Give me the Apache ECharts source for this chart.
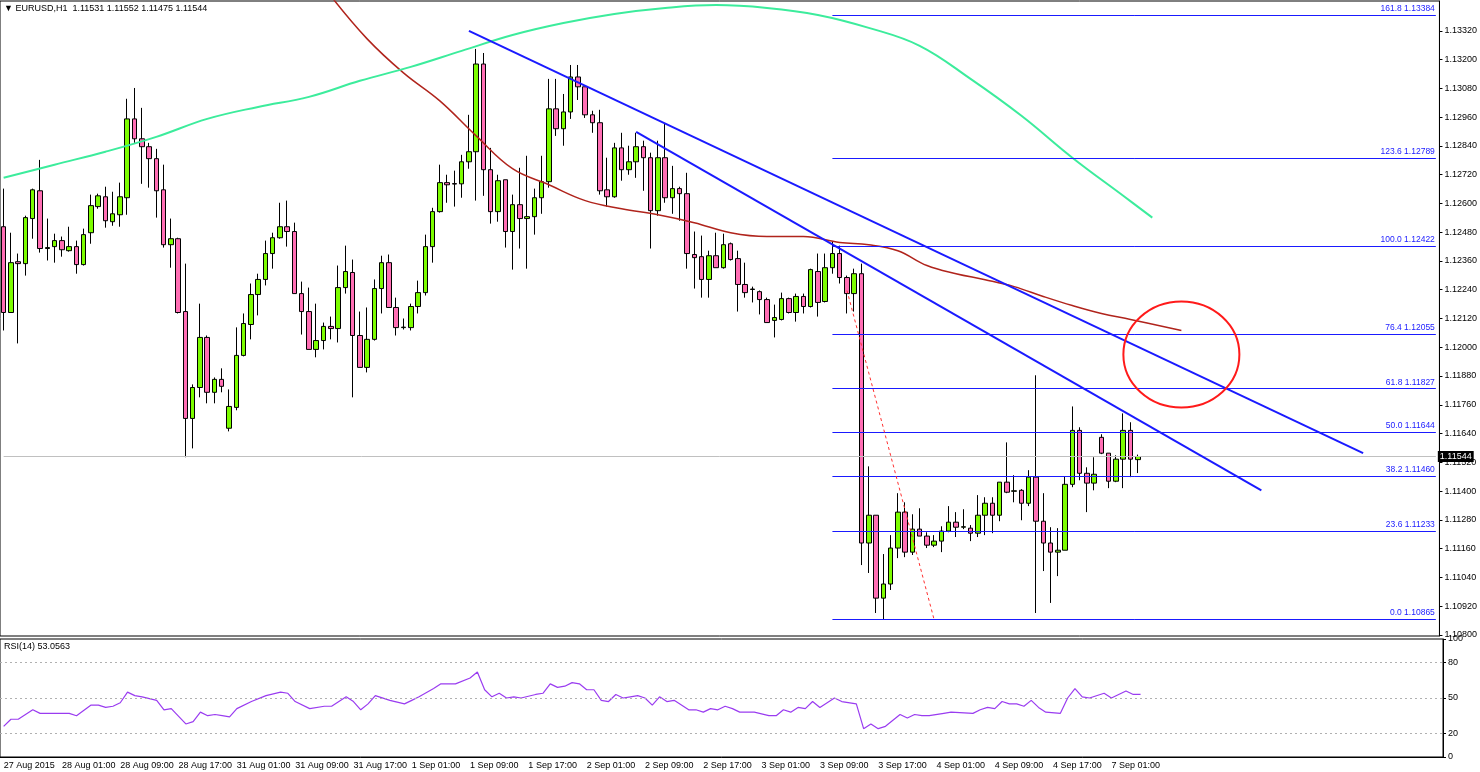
<!DOCTYPE html>
<html>
<head>
<meta charset="utf-8">
<script src="https://cdn.jsdelivr.net/npm/echarts@6/dist/echarts.min.js"></script>
<style>
  html, body { margin: 0; padding: 0; background: #fff; }
  #chart { width: 1480px; height: 772px; }
</style>
</head>
<body>
<div id="chart"></div>
<script>
// hourly bars, EURUSD H1, [open, close, low, high]
var ohlc = [
  [1.12503,1.12145,1.12070,1.12662],[1.12145,1.12353,1.12145,1.12478],[1.12357,1.12349,1.12016,1.12391],
  [1.12349,1.12541,1.12299,1.12549],[1.12537,1.12657,1.12453,1.12662],[1.12653,1.12412,1.12395,1.12782],
  [1.12412,1.12416,1.12362,1.12537],[1.12420,1.12445,1.12353,1.12474],[1.12445,1.12407,1.12378,1.12462],
  [1.12403,1.12420,1.12399,1.12503],[1.12420,1.12345,1.12307,1.12445],[1.12345,1.12470,1.12341,1.12495],
  [1.12478,1.12591,1.12432,1.12637],[1.12587,1.12632,1.12578,1.12641],[1.12628,1.12528,1.12499,1.12670],
  [1.12524,1.12557,1.12507,1.12649],[1.12553,1.12628,1.12503,1.12687],[1.12624,1.12953,1.12553,1.13037],
  [1.12953,1.12870,1.12853,1.13082],[1.12870,1.12837,1.12682,1.12999],[1.12837,1.12787,1.12666,1.12853],
  [1.12787,1.12653,1.12541,1.12828],[1.12657,1.12428,1.12416,1.12762],[1.12428,1.12453,1.12332,1.12537],
  [1.12453,1.12145,1.12141,1.12457],[1.12149,1.11703,1.11541,1.12349],[1.11703,1.11832,1.11578,1.11845],
  [1.11832,1.12041,1.11791,1.12182],[1.12041,1.11812,1.11766,1.12049],[1.11812,1.11866,1.11766,1.11874],
  [1.11866,1.11837,1.11812,1.11912],[1.11662,1.11753,1.11649,1.11824],[1.11749,1.11966,1.11737,1.12083],
  [1.11966,1.12099,1.11962,1.12141],[1.12095,1.12220,1.12033,1.12266],[1.12220,1.12283,1.12133,1.12307],
  [1.12283,1.12391,1.12258,1.12445],[1.12391,1.12457,1.12328,1.12478],[1.12457,1.12503,1.12453,1.12603],
  [1.12503,1.12483,1.12420,1.12612],[1.12483,1.12224,1.12224,1.12520],[1.12224,1.12149,1.12053,1.12274],
  [1.12149,1.11991,1.11991,1.12249],[1.11991,1.12028,1.11958,1.12182],[1.12028,1.12087,1.11991,1.12103],
  [1.12087,1.12078,1.12033,1.12128],[1.12078,1.12249,1.12020,1.12341],[1.12249,1.12316,1.12224,1.12424],
  [1.12312,1.12049,1.11791,1.12366],[1.12049,1.11916,1.11916,1.12149],[1.11916,1.12033,1.11895,1.12166],
  [1.12033,1.12245,1.12028,1.12283],[1.12245,1.12353,1.12141,1.12382],[1.12353,1.12166,1.12166,1.12387],
  [1.12166,1.12082,1.12049,1.12207],[1.12082,1.12084,1.12074,1.12120],[1.12082,1.12170,1.12070,1.12182],
  [1.12170,1.12228,1.12141,1.12278],[1.12228,1.12420,1.12216,1.12470],[1.12420,1.12566,1.12353,1.12582],
  [1.12566,1.12687,1.12562,1.12762],[1.12687,1.12678,1.12603,1.12720],[1.12683,1.12681,1.12587,1.12737],
  [1.12682,1.12774,1.12624,1.12803],[1.12774,1.12816,1.12745,1.12970],[1.12816,1.13182,1.12612,1.13245],
  [1.13182,1.12741,1.12632,1.13228],[1.12741,1.12566,1.12516,1.12832],[1.12566,1.12695,1.12524,1.12720],
  [1.12699,1.12483,1.12416,1.12699],[1.12483,1.12595,1.12324,1.12637],[1.12595,1.12537,1.12412,1.12749],
  [1.12537,1.12545,1.12328,1.12799],[1.12545,1.12624,1.12470,1.12662],[1.12624,1.12691,1.12557,1.12799],
  [1.12691,1.12995,1.12666,1.13120],[1.12995,1.12912,1.12882,1.13120],[1.12912,1.12982,1.12841,1.13057],
  [1.12982,1.13128,1.12953,1.13178],[1.13128,1.13087,1.13032,1.13178],[1.13087,1.12970,1.12957,1.13087],
  [1.12970,1.12937,1.12895,1.12987],[1.12937,1.12653,1.12637,1.12991],[1.12657,1.12628,1.12587,1.12791],
  [1.12628,1.12832,1.12624,1.12853],[1.12832,1.12741,1.12695,1.12895],[1.12741,1.12774,1.12720,1.12841],
  [1.12774,1.12837,1.12707,1.12895],[1.12837,1.12791,1.12653,1.12862],[1.12791,1.12570,1.12412,1.12812],
  [1.12570,1.12791,1.12549,1.12862],[1.12791,1.12624,1.12603,1.12932],[1.12624,1.12662,1.12557,1.12757],
  [1.12662,1.12641,1.12528,1.12670],[1.12641,1.12391,1.12328,1.12728],[1.12387,1.12374,1.12245,1.12483],
  [1.12378,1.12283,1.12207,1.12466],[1.12283,1.12382,1.12207,1.12403],[1.12382,1.12332,1.12332,1.12478],
  [1.12332,1.12428,1.12328,1.12474],[1.12432,1.12366,1.12362,1.12437],[1.12370,1.12262,1.12149,1.12403],
  [1.12262,1.12228,1.12207,1.12353],[1.12241,1.12243,1.12187,1.12253],[1.12232,1.12199,1.12137,1.12237],
  [1.12199,1.12103,1.12103,1.12207],[1.12112,1.12124,1.12041,1.12178],[1.12116,1.12203,1.12112,1.12228],
  [1.12203,1.12145,1.12141,1.12207],[1.12145,1.12212,1.12107,1.12224],[1.12212,1.12170,1.12141,1.12224],
  [1.12170,1.12324,1.12166,1.12328],[1.12316,1.12187,1.12128,1.12391],[1.12191,1.12332,1.12187,1.12391],
  [1.12332,1.12391,1.12307,1.12441],[1.12391,1.12291,1.12266,1.12424],[1.12291,1.12224,1.12141,1.12299],
  [1.12224,1.12307,1.12149,1.12328],[1.12307,1.11183,1.11091,1.12349],[1.11183,1.11299,1.11058,1.11503],
  [1.11299,1.10953,1.10891,1.11299],[1.10953,1.11012,1.10865,1.11137],[1.11012,1.11162,1.10987,1.11216],
  [1.11162,1.11312,1.11120,1.11391],[1.11312,1.11145,1.11124,1.11353],[1.11145,1.11241,1.11133,1.11303],
  [1.11241,1.11212,1.11212,1.11328],[1.11212,1.11174,1.11162,1.11228],[1.11174,1.11191,1.11166,1.11216],
  [1.11191,1.11233,1.11145,1.11253],[1.11233,1.11270,1.11228,1.11337],[1.11270,1.11249,1.11208,1.11312],
  [1.11249,1.11251,1.11241,1.11324],[1.11245,1.11224,1.11191,1.11258],[1.11224,1.11299,1.11208,1.11383],
  [1.11299,1.11349,1.11216,1.11374],[1.11349,1.11299,1.11224,1.11374],[1.11299,1.11437,1.11274,1.11437],
  [1.11437,1.11395,1.11391,1.11603],[1.11399,1.11401,1.11353,1.11466],[1.11403,1.11349,1.11278,1.11408],
  [1.11349,1.11458,1.11337,1.11487],[1.11458,1.11274,1.10891,1.11883],[1.11274,1.11183,1.11066,1.11391],
  [1.11183,1.11145,1.10933,1.11249],[1.11145,1.11153,1.11045,1.11245],[1.11153,1.11428,1.11153,1.11462],
  [1.11428,1.11653,1.11416,1.11753],[1.11653,1.11474,1.11445,1.11666],[1.11474,1.11433,1.11312,1.11499],
  [1.11433,1.11470,1.11403,1.11541],[1.11624,1.11558,1.11554,1.11637],[1.11558,1.11441,1.11412,1.11558],
  [1.11441,1.11533,1.11437,1.11549],[1.11533,1.11653,1.11412,1.11724],[1.11653,1.11533,1.11458,1.11687],
  [1.11531,1.11544,1.11475,1.11552]
];

// moving averages, [bar index, price]
var maRed = [
  [45,1.13466],[50,1.13287],[55,1.13145],[60,1.13028],[65,1.12882],[70,1.12745],[75,1.12678],
  [80,1.12612],[85,1.12578],[90,1.12553],[95,1.12520],[100,1.12478],[105,1.12462],[110,1.12462],
  [115,1.12437],[119,1.12428],[123,1.12403],[127,1.12341],[131,1.12307],[135,1.12282],[139,1.12253],
  [143,1.12212],[147,1.12174],[151,1.12141],[155,1.12116],[162,1.12070]
];
var maGreen = [
  [0,1.12707],[7,1.12762],[14,1.12816],[21,1.12878],[28,1.12953],[35,1.13003],[42,1.13045],
  [49,1.13112],[56,1.13170],[63,1.13237],[70,1.13303],[77,1.13353],[84,1.13391],[91,1.13416],
  [98,1.13428],[105,1.13416],[112,1.13387],[119,1.13333],[126,1.13258],[133,1.13120],[140,1.12966],
  [147,1.12791],[154,1.12632],[158,1.12541]
];

// RSI(14), [bar index, value]
var rsi = [
  [0,26],[1,32],[2,32],[4,40],[5,37],[7,37],[9,37],[10,35],[12,44],[13,44],[14,42],[15,43],[16,46],
  [17,55],[18,52],[19,51],[21,48],[22,40],[23,41],[25,28],[26,30],[27,38],[28,35],[29,36],[30,35],
  [31,34],[32,41],[34,47],[36,52],[38,55],[39,54],[40,47],[42,41],[44,43],[45,43],[47,51],[48,47],
  [49,40],[50,45],[51,52],[53,48],[55,45],[56,48],[57,51],[59,58],[60,62],[62,62],[64,67],[65,72],
  [66,57],[67,51],[68,54],[69,50],[70,51],[71,50],[73,53],[74,54],[75,62],[76,59],[77,60],[78,63],
  [79,62],[80,57],[81,57],[82,48],[83,47],[84,53],[85,50],[86,51],[87,52],[88,50],[89,44],[90,51],
  [91,47],[92,48],[94,40],[95,40],[96,38],[97,41],[98,40],[99,43],[100,41],[101,38],[103,38],[105,35],
  [106,35],[107,40],[108,38],[109,42],[110,41],[111,47],[112,42],[114,50],[115,47],[117,45],[118,24],
  [119,28],[120,24],[121,26],[123,36],[124,33],[125,36],[126,35],[127,35],[129,37],[130,38],[133,37],
  [134,40],[135,42],[136,41],[137,47],[138,45],[139,45],[140,43],[141,48],[142,42],[143,38],[145,37],
  [146,50],[147,58],[148,51],[149,50],[151,54],[152,50],[154,56],[155,53],[156,53]
];

// fibonacci retracement levels
var fibLevels = ['0.0','23.6','38.2','50.0','61.8','76.4','100.0','123.6','161.8'];
var fibPrices = [1.10865,1.11233,1.11460,1.11644,1.11827,1.12055,1.12422,1.12789,1.13384];

// trend lines, [[bar, price], [bar, price]]
var trend1 = [[64,1.13320],[187,1.11558]];
var trend2 = [[87,1.12899],[173,1.11403]];
var dotted = [[116,1.12237],[128,1.10862]];
var circleAt = [162,1.11970];

var lastPrice = 1.11544;

var priceTicks = [1.10800,1.10920,1.11040,1.11160,1.11280,1.11400,1.11520,1.11640,1.11760,1.11880,
  1.12000,1.12120,1.12240,1.12360,1.12480,1.12600,1.12720,1.12840,1.12960,1.13080,1.13200,1.13320];
var rsiTicks = [0,20,50,80,100];
var timeLabels = ['27 Aug 2015','28 Aug 01:00','28 Aug 09:00','28 Aug 17:00','31 Aug 01:00','31 Aug 09:00',
  '31 Aug 17:00','1 Sep 01:00','1 Sep 09:00','1 Sep 17:00','2 Sep 01:00','2 Sep 09:00','2 Sep 17:00',
  '3 Sep 01:00','3 Sep 09:00','3 Sep 17:00','4 Sep 01:00','4 Sep 09:00','4 Sep 17:00','7 Sep 01:00'];

var slots = 198;
var cats = [];
for (var i = 0; i < slots; i++) cats.push(String(i));

var font = 'Liberation Sans';
var BLUE = '#1a1aff';

function pt(p) { return { coord: [String(p[0]), p[1]] }; }
function showTime(i) { return i % 8 === 0 && i / 8 < timeLabels.length; }

var fibLines = fibPrices.map(function (v, k) {
    return [
        { coord: ['114', v],
          lineStyle: { color: BLUE, width: 1, type: 'solid' },
          label: { show: true, position: 'insideEndTop', formatter: fibLevels[k] + ' ' + v.toFixed(5),
                   color: BLUE, fontFamily: font, fontSize: 8.5, distance: [1, 2] } },
        { coord: [String(slots - 1), v] }
    ];
});

var chart = echarts.init(document.getElementById('chart'));
chart.setOption({
    animation: false,
    backgroundColor: '#fff',
    grid: [
        { left: 0, right: 37, top: 1, height: 635, show: true, borderColor: '#000', borderWidth: 1 },
        { left: 0, right: 37, top: 639, height: 118, show: true, borderColor: '#000', borderWidth: 1 }
    ],
    xAxis: [{
        type: 'category', gridIndex: 0, data: cats,
        axisLine: { show: false }, axisTick: { show: false }, axisLabel: { show: false }, splitLine: { show: false }
    }, {
        type: 'category', gridIndex: 1, data: cats,
        axisLine: { lineStyle: { color: '#000' } },
        axisTick: { interval: showTime, length: 3, lineStyle: { color: '#000' } },
        axisLabel: {
            interval: showTime,
            formatter: function (v, i) { return timeLabels[i / 8] || ''; },
            align: 'left', margin: 4, fontFamily: font, fontSize: 9, color: '#000'
        },
        splitLine: { show: false }
    }],
    yAxis: [{
        type: 'value', gridIndex: 0, position: 'right', min: 1.10795, max: 1.13445, scale: true,
        axisLine: { show: true, lineStyle: { color: '#000' } },
        axisTick: { show: true, length: 3, customValues: priceTicks, lineStyle: { color: '#000' } },
        axisLabel: { customValues: priceTicks, formatter: function (v) { return v.toFixed(5); },
            fontFamily: font, fontSize: 9, color: '#000', margin: 5 },
        splitLine: { show: false }
    }, {
        type: 'value', gridIndex: 1, position: 'right', min: 0, max: 100,
        axisLine: { show: true, lineStyle: { color: '#000' } },
        axisTick: { show: true, length: 3, customValues: rsiTicks, lineStyle: { color: '#000' } },
        axisLabel: { customValues: rsiTicks, fontFamily: font, fontSize: 9, color: '#000', margin: 5 },
        splitLine: { show: false }
    }],
    series: [{
        type: 'candlestick', xAxisIndex: 0, yAxisIndex: 0, data: ohlc, barWidth: 5,
        itemStyle: { color: '#7CFC00', color0: '#FF6EB4', borderColor: '#000', borderColor0: '#000', borderWidth: 1 },
        markLine: {
            silent: true, symbol: 'none', animation: false,
            data: [
                [{ coord: ['0', lastPrice], lineStyle: { color: '#c0c0c0', width: 1, type: 'solid' },
                   label: { show: true, position: 'end', formatter: lastPrice.toFixed(5), color: '#fff',
                            backgroundColor: '#000', padding: [1, 2], fontFamily: font, fontSize: 9, distance: 2 } },
                 { coord: [String(slots - 1), lastPrice] }]
            ].concat(fibLines).concat([
                [Object.assign(pt(trend1[0]), { lineStyle: { color: BLUE, width: 2, type: 'solid' }, label: { show: false } }), pt(trend1[1])],
                [Object.assign(pt(trend2[0]), { lineStyle: { color: BLUE, width: 2, type: 'solid' }, label: { show: false } }), pt(trend2[1])],
                [Object.assign(pt(dotted[0]), { lineStyle: { color: '#ff3030', width: 1, type: [3, 3] }, label: { show: false } }), pt(dotted[1])]
            ])
        }
    }, {
        type: 'line', xAxisIndex: 0, yAxisIndex: 0, data: maRed, smooth: 0.4, showSymbol: false,
        lineStyle: { color: '#b0241c', width: 1.5 }, z: 3
    }, {
        type: 'line', xAxisIndex: 0, yAxisIndex: 0, data: maGreen, smooth: 0.4, showSymbol: false,
        lineStyle: { color: '#3cec9c', width: 2 }, z: 3
    }, {
        type: 'line', xAxisIndex: 1, yAxisIndex: 1, data: rsi, showSymbol: false,
        lineStyle: { color: '#9a3cf0', width: 1.2 },
        markLine: {
            silent: true, symbol: 'none', label: { show: false },
            lineStyle: { color: '#b0b0b0', type: [2, 3], width: 1 },
            data: [{ yAxis: 80 }, { yAxis: 50 }, { yAxis: 20 }]
        }
    }],
    graphic: [
        { id: 'title', type: 'text', left: 4, top: 4, style: { text: '\u25BC EURUSD,H1  1.11531 1.11552 1.11475 1.11544', fontFamily: font, fontSize: 9, fill: '#000' } },
        { id: 'rsiTitle', type: 'text', left: 4, top: 642, style: { text: 'RSI(14) 53.0563', fontFamily: font, fontSize: 9, fill: '#000' } }
    ]
});

var c = chart.convertToPixel({ xAxisIndex: 0, yAxisIndex: 0 }, [String(circleAt[0]), circleAt[1]]);
chart.setOption({
    graphic: [{
        id: 'circle', type: 'ellipse', shape: { cx: c[0], cy: c[1], rx: 58, ry: 53 },
        style: { fill: 'none', stroke: '#ff1a1a', lineWidth: 2 }, z: 10
    }]
});
</script>
</body>
</html>
